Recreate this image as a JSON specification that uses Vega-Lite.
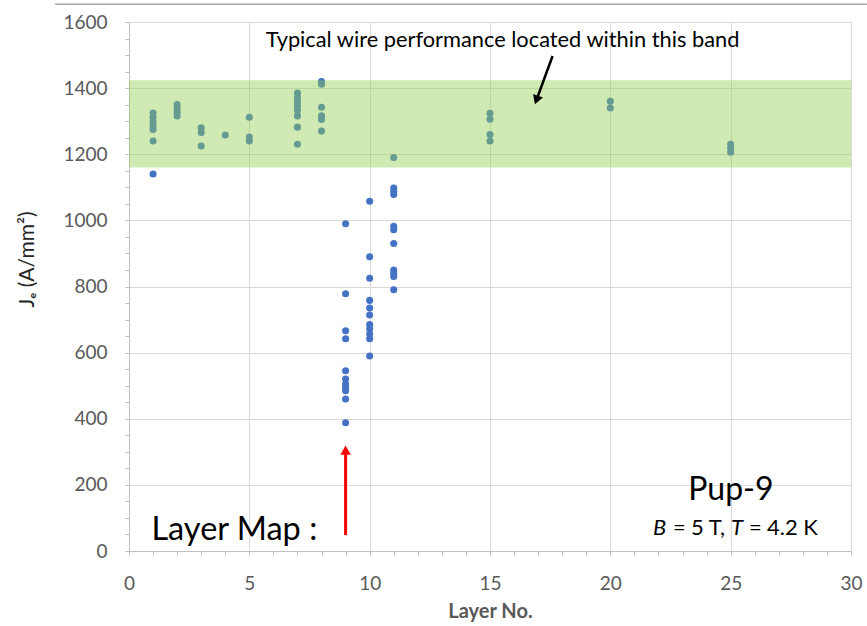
{
  "$schema": "https://vega.github.io/schema/vega-lite/v6.json",
  "width": 722,
  "height": 529,
  "autosize": "none",
  "padding": {"left": 129, "top": 22, "right": 16, "bottom": 75},
  "background": "white",
  "config": {"view": {"stroke": null}, "font": "Lato"},
  "datasets": {
    "measurements": [
      {"layer": 1, "je": 1325}, {"layer": 1, "je": 1312}, {"layer": 1, "je": 1298}, {"layer": 1, "je": 1285}, {"layer": 1, "je": 1275}, {"layer": 1, "je": 1240}, {"layer": 1, "je": 1140},
      {"layer": 2, "je": 1350}, {"layer": 2, "je": 1338}, {"layer": 2, "je": 1326}, {"layer": 2, "je": 1316},
      {"layer": 3, "je": 1280}, {"layer": 3, "je": 1266}, {"layer": 3, "je": 1225},
      {"layer": 4, "je": 1258},
      {"layer": 5, "je": 1312}, {"layer": 5, "je": 1252}, {"layer": 5, "je": 1240},
      {"layer": 7, "je": 1385}, {"layer": 7, "je": 1372}, {"layer": 7, "je": 1358}, {"layer": 7, "je": 1345}, {"layer": 7, "je": 1333}, {"layer": 7, "je": 1316}, {"layer": 7, "je": 1282}, {"layer": 7, "je": 1230},
      {"layer": 8, "je": 1420}, {"layer": 8, "je": 1412}, {"layer": 8, "je": 1342}, {"layer": 8, "je": 1316}, {"layer": 8, "je": 1305}, {"layer": 8, "je": 1270},
      {"layer": 9, "je": 990}, {"layer": 9, "je": 778}, {"layer": 9, "je": 666}, {"layer": 9, "je": 642}, {"layer": 9, "je": 545}, {"layer": 9, "je": 520}, {"layer": 9, "je": 505}, {"layer": 9, "je": 495}, {"layer": 9, "je": 485}, {"layer": 9, "je": 460}, {"layer": 9, "je": 388},
      {"layer": 10, "je": 1058}, {"layer": 10, "je": 890}, {"layer": 10, "je": 825}, {"layer": 10, "je": 758}, {"layer": 10, "je": 735}, {"layer": 10, "je": 714}, {"layer": 10, "je": 685}, {"layer": 10, "je": 672}, {"layer": 10, "je": 656}, {"layer": 10, "je": 642}, {"layer": 10, "je": 590},
      {"layer": 11, "je": 1190}, {"layer": 11, "je": 1098}, {"layer": 11, "je": 1088}, {"layer": 11, "je": 1078}, {"layer": 11, "je": 982}, {"layer": 11, "je": 972}, {"layer": 11, "je": 930}, {"layer": 11, "je": 850}, {"layer": 11, "je": 840}, {"layer": 11, "je": 830}, {"layer": 11, "je": 790},
      {"layer": 15, "je": 1324}, {"layer": 15, "je": 1306}, {"layer": 15, "je": 1260}, {"layer": 15, "je": 1240},
      {"layer": 20, "je": 1360}, {"layer": 20, "je": 1340},
      {"layer": 25, "je": 1230}, {"layer": 25, "je": 1218}, {"layer": 25, "je": 1206}
    ]
  },
  "encoding": {
    "x": {
      "field": "layer", "type": "quantitative",
      "scale": {"domain": [0, 30], "nice": false, "zero": false},
      "axis": {
        "title": "Layer No.",
        "values": [0,1,2,3,4,5,6,7,8,9,10,11,12,13,14,15,16,17,18,19,20,21,22,23,24,25,26,27,28,29,30],
        "labelExpr": "datum.value % 5 === 0 ? datum.label : ''",
        "grid": true,
        "gridColor": "#D9D9D9",
        "gridOpacity": {"condition": {"test": "datum.value % 5 === 0 && datum.value > 0", "value": 1}, "value": 0},
        "domainColor": "#BFBFBF",
        "tickColor": "#BFBFBF",
        "tickSize": 4,
        "labelFontSize": 19,
        "labelColor": "#595959",
        "labelPadding": 19,
        "labelFlush": false,
        "titleFontSize": 20,
        "titleFontWeight": "bold",
        "titleColor": "#595959",
        "titlePadding": 8
      }
    },
    "y": {
      "field": "je", "type": "quantitative",
      "scale": {"domain": [0, 1600], "nice": false},
      "axis": {
        "title": "Jₑ (A/mm²)",
        "values": [0,50,100,150,200,250,300,350,400,450,500,550,600,650,700,750,800,850,900,950,1000,1050,1100,1150,1200,1250,1300,1350,1400,1450,1500,1550,1600],
        "labelExpr": "datum.value % 200 === 0 ? datum.label : ''",
        "format": "d",
        "grid": true,
        "gridColor": "#D9D9D9",
        "gridOpacity": {"condition": {"test": "datum.value % 200 === 0 && datum.value > 0", "value": 1}, "value": 0},
        "domainColor": "#BFBFBF",
        "tickColor": "#BFBFBF",
        "tickSize": 4,
        "labelFontSize": 19,
        "labelColor": "#595959",
        "labelPadding": 18,
        "labelFlush": false,
        "titleFontSize": 21,
        "titleFontWeight": "normal",
        "titleColor": "#262626",
        "titleX": -92,
        "titleY": 237
      }
    }
  },
  "layer": [
    {
      "data": {"name": "measurements"},
      "mark": {"type": "circle", "size": 50, "color": "#4472C4", "opacity": 1}
    },
    {
      "data": {"values": [{"layer": 0, "layer2": 30, "je": 1160, "je2": 1424}]},
      "mark": {"type": "rect", "color": "#92D050", "opacity": 0.44},
      "encoding": {"x2": {"field": "layer2"}, "y2": {"field": "je2"}}
    },
    {
      "data": {"values": [{"layer": -3.07, "layer2": 30.66, "je": 1654}]},
      "mark": {"type": "rule", "color": "#A6A6A6", "strokeWidth": 1.5, "clip": false},
      "encoding": {"x2": {"field": "layer2"}}
    },
    {
      "data": {"values": [{"layer": 17.6, "je": 1497}, {"layer": 16.93, "je": 1364}]},
      "mark": {"type": "line", "color": "black", "strokeWidth": 2.5},
      "encoding": {}
    },
    {
      "data": {"values": [{"layer": 16.93, "je": 1364}]},
      "mark": {"type": "point", "shape": "triangle-down", "size": 110, "filled": true, "color": "black", "opacity": 1, "angle": 20},
      "encoding": {}
    },
    {
      "data": {"values": [{"layer": 9, "je": 48}, {"layer": 9, "je": 305}]},
      "mark": {"type": "line", "color": "#FF0000", "strokeWidth": 3},
      "encoding": {}
    },
    {
      "data": {"values": [{"layer": 9, "je": 305}]},
      "mark": {"type": "point", "shape": "triangle-up", "size": 110, "filled": true, "color": "#FF0000", "opacity": 1},
      "encoding": {}
    },
    {
      "data": {"values": [{"layer": 15.52, "je": 1523, "label": "Typical wire performance located within this band"}]},
      "mark": {"type": "text", "fontSize": 21.8, "color": "black", "align": "center", "baseline": "alphabetic"},
      "encoding": {"text": {"field": "label"}}
    },
    {
      "data": {"values": [{"layer": 0.93, "je": 33, "label": "Layer Map :"}]},
      "mark": {"type": "text", "fontSize": 32.5, "color": "black", "align": "left", "baseline": "alphabetic"},
      "encoding": {"text": {"field": "label"}}
    },
    {
      "data": {"values": [{"layer": 25.01, "je": 154, "label": "Pup-9"}]},
      "mark": {"type": "text", "fontSize": 32, "color": "black", "align": "center", "baseline": "alphabetic"},
      "encoding": {"text": {"field": "label"}}
    },
    {
      "data": {"values": [{"layer": 21.77, "je": 48, "label": "B"}, {"layer": 25.01, "je": 48, "label": "T"}]},
      "mark": {"type": "text", "fontSize": 22, "fontStyle": "italic", "color": "black", "align": "left", "baseline": "alphabetic"},
      "encoding": {"text": {"field": "label"}}
    },
    {
      "data": {"values": [{"layer": 22.6, "je": 48, "label": "="}, {"layer": 23.35, "je": 48, "label": "5 T,"}, {"layer": 25.76, "je": 48, "label": "="}, {"layer": 26.51, "je": 48, "label": "4.2 K"}]},
      "mark": {"type": "text", "fontSize": 22, "color": "black", "align": "left", "baseline": "alphabetic"},
      "encoding": {"text": {"field": "label"}}
    }
  ]
}
